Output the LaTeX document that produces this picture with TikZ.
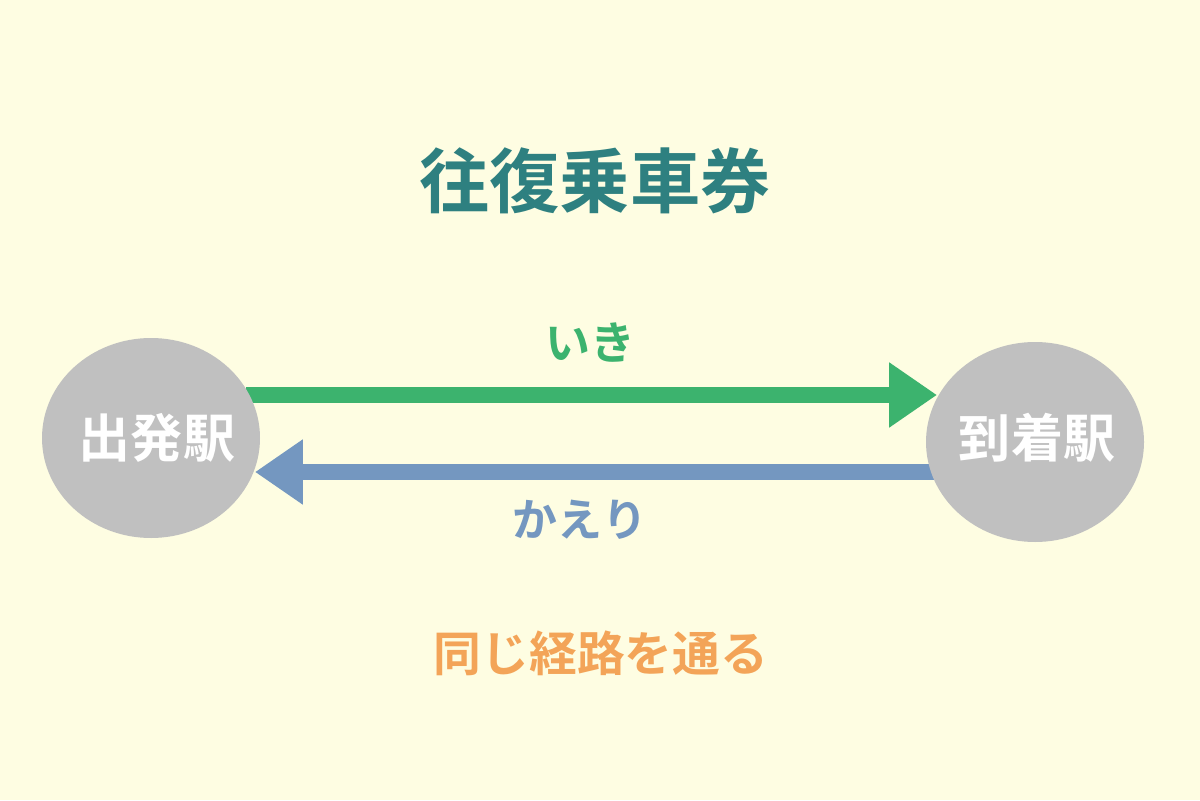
\documentclass[tikz,border=0pt]{standalone}
\usepackage{fontspec}
\newfontfamily\jp{Noto Sans CJK JP}[BoldFont={Noto Sans CJK JP Bold}]
\usetikzlibrary{arrows.meta,calc,shapes.geometric}
\definecolor{bgc}{RGB}{254,253,226}
\definecolor{stgray}{RGB}{192,192,192}
\definecolor{gogreen}{RGB}{60,179,110}
\definecolor{backblue}{RGB}{116,151,192}
\definecolor{teal}{RGB}{46,128,128}
\definecolor{orng}{RGB}{243,164,88}
\pgfdeclarelayer{bg}
\pgfsetlayers{bg,main}
\tikzset{
  station/.style={ellipse,fill=stgray,minimum width=218*0.025cm,minimum height=200*0.025cm,inner sep=0pt},
  stlabel/.style={inner sep=0pt,text=white,font=\jp\bfseries\fontsize{37}{40}\selectfont},
  flow/.style={line width=10.7pt,-{Triangle[length=34pt,width=44pt]}},
  lbl/.style={inner sep=0pt,font=\jp\bfseries\fontsize{32}{36}\selectfont}
}
\begin{document}
\begin{tikzpicture}[x=0.025cm,y=-0.025cm]
\begin{pgfonlayer}{bg}
\fill[bgc] (0,0) rectangle (1200,800);
\end{pgfonlayer}
\useasboundingbox (0,0) rectangle (1200,800);
\node[inner sep=0pt,text=teal,font=\jp\bfseries\fontsize{50}{56}\selectfont] (title) at (595,181) {往復乗車券};
\node[station] (dep) at (151,438) {};
\node[station] (arr) at (1035,442) {};
\node[stlabel] (deplbl) at ($(dep.center)+(6,0)$) {出発駅};
\node[stlabel] (arrlbl) at ($(arr.center)+(2,-4)$) {到着駅};
\begin{pgfonlayer}{bg}
\draw[flow,gogreen] ($(dep.center)+(95,-43)$) -- ($(arr.center)+(-98,-47)$);
\draw[flow,backblue] ($(arr.center)+(-100,30)$) -- ($(dep.center)+(104,34)$);
\end{pgfonlayer}
\node[lbl,text=gogreen] (go) at (590,343) {いき};
\node[lbl,text=backblue] (back) at (580,520) {かえり};
\node[inner sep=0pt,text=orng,font=\jp\bfseries\fontsize{34}{38}\selectfont] (note) at (601,653) {同じ経路を通る};
\end{tikzpicture}
\end{document}
